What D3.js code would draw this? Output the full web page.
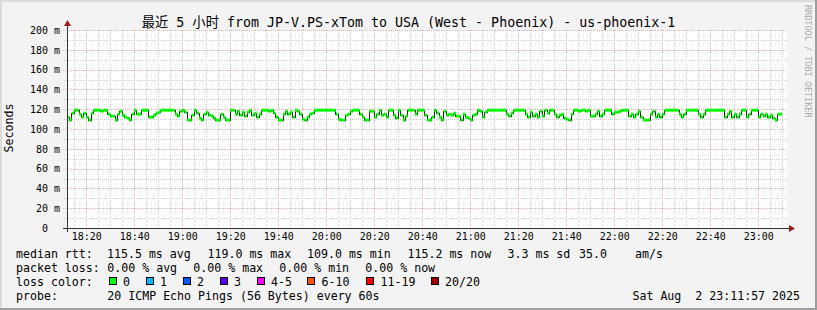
<!DOCTYPE html>
<html>
<head>
<meta charset="utf-8">
<script src="https://cdn.jsdelivr.net/npm/d3@7"></script>
<style>
  body { margin: 0; background: #f3f3f3; }
  text { font-family: "DejaVu Sans Mono", "Noto Sans CJK SC", monospace; fill: #000; }
</style>
</head>
<body>
<div id="chart"></div>
<script>
// median rtt (ms), one value per minute starting 18:12
const medianRtt = [
  112,109,116,119,119,115,112,116,112,109,
  116,119,119,119,118,119,119,115,113,113,
  109,115,118,114,112,111,109,115,119,115,
  115,119,119,119,112,112,114,116,117,119,
  119,119,119,119,119,115,113,118,119,117,
  109,109,114,119,116,111,109,115,117,114,
  113,111,109,109,115,112,109,109,119,119,
  115,118,114,117,113,117,119,114,116,112,
  115,119,119,119,118,119,116,112,109,109,
  115,118,115,117,112,119,118,115,110,109,
  112,115,116,119,119,119,119,119,119,119,
  119,119,115,110,109,109,114,115,118,119,
  119,119,115,112,109,109,118,118,112,115,
  119,114,115,112,119,119,114,111,119,114,
  109,113,119,119,119,115,119,119,119,114,
  109,109,112,119,116,112,109,118,114,115,
  114,116,113,113,109,115,112,111,109,114,
  115,119,118,112,117,119,119,119,119,119,
  119,119,119,115,113,116,119,119,119,119,
  119,115,112,117,113,115,112,118,113,119,
  116,119,119,115,112,114,115,111,110,109,
  115,119,119,118,119,119,118,119,113,113,
  115,118,113,115,119,119,119,115,117,117,
  118,119,119,119,113,115,112,115,118,112,
  109,109,109,115,118,112,115,112,115,119,
  119,119,119,119,119,115,112,115,119,119,
  119,119,119,115,112,115,119,119,119,119,
  119,119,119,119,112,115,118,112,115,112,
  115,119,119,112,115,119,119,119,112,115,
  113,115,112,114,111,109,115,115
];

const yTicks = [0, 20, 40, 60, 80, 100, 120, 140, 160, 180, 200];
const xTickLabels = ["18:20","18:40","19:00","19:20","19:40","20:00","20:20","20:40",
                     "21:00","21:20","21:40","22:00","22:20","22:40","23:00"];

const lossLabels = ["0", "1", "2", "3", "4-5", "6-10", "11-19", "20/20"];
const lossColors = ["#00ff00", "#00b8ff", "#0059ff", "#5e00ff", "#ff00ff", "#ff5500", "#ff0000", "#a00000"];

const rttStats = ["115.5 ms avg", "119.0 ms max", "109.0 ms min", "115.2 ms now", "3.3 ms sd", "35.0", "am/s"];
const lossStats = ["0.00 % avg", "0.00 % max", "0.00 % min", "0.00 % now"];

const W = 817, H = 310;
const plot = {left: 67, right: 787, top: 30, bottom: 228};

const parseHM = d3.timeParse("%Y-%m-%d %H:%M");
const tStart = parseHM("2025-08-02 18:12"),
      tEnd = parseHM("2025-08-02 23:12");
const data = medianRtt.map((v, i) => ({t: d3.timeMinute.offset(tStart, i), v: v}));

const svg = d3.select('#chart').append('svg')
    .attr('width', W)
    .attr('height', H);

// background + 3d frame
svg.append('rect').attr('width', W).attr('height', H).attr('fill', '#f3f3f3');
svg.append('rect').attr('x', 0).attr('y', 0).attr('width', W).attr('height', 2).attr('fill', '#dcdcdc');
svg.append('rect').attr('x', 0).attr('y', 0).attr('width', 2).attr('height', H).attr('fill', '#dcdcdc');
svg.append('rect').attr('x', 0).attr('y', H - 2).attr('width', W).attr('height', 2).attr('fill', '#9e9e9e');
svg.append('rect').attr('x', W - 2).attr('y', 0).attr('width', 2).attr('height', H).attr('fill', '#9e9e9e');

const xScale = d3.scaleTime().domain([tStart, tEnd]).range([plot.left, plot.right]);
const yScale = d3.scaleLinear().domain([0, 200]).range([plot.bottom, plot.top]);

svg.append('rect')
    .attr('x', plot.left).attr('y', plot.top)
    .attr('width', plot.right - plot.left).attr('height', plot.bottom - plot.top)
    .attr('fill', '#ffffff');

// grid
const grid = svg.append('g').attr('shape-rendering', 'crispEdges');
const minorX = d3.timeMinute.every(5).range(tStart, tEnd).filter(d => d.getMinutes() % 20 !== 0);
const majorX = d3.timeMinute.every(20).range(tStart, tEnd);
const minorY = d3.range(10, 201, 20);

grid.selectAll('.mx').data(minorX).join('line')
    .attr('x1', d => Math.round(xScale(d)) + 0.5).attr('x2', d => Math.round(xScale(d)) + 0.5)
    .attr('y1', plot.top).attr('y2', plot.bottom + 2)
    .attr('stroke', '#cfcfcf').attr('stroke-dasharray', '1,1');
grid.selectAll('.my').data(minorY).join('line')
    .attr('x1', plot.left - 3).attr('x2', plot.right)
    .attr('y1', d => Math.round(yScale(d)) + 0.5).attr('y2', d => Math.round(yScale(d)) + 0.5)
    .attr('stroke', '#cfcfcf').attr('stroke-dasharray', '1,1');
grid.selectAll('.Mx').data(majorX).join('line')
    .attr('x1', d => Math.round(xScale(d)) + 0.5).attr('x2', d => Math.round(xScale(d)) + 0.5)
    .attr('y1', plot.top).attr('y2', plot.bottom + 3)
    .attr('stroke', '#f0b0b0').attr('stroke-dasharray', '1,1');
grid.selectAll('.My').data(yTicks.filter(d => d > 0)).join('line')
    .attr('x1', plot.left - 4).attr('x2', plot.right)
    .attr('y1', d => Math.round(yScale(d)) + 0.5).attr('y2', d => Math.round(yScale(d)) + 0.5)
    .attr('stroke', '#f0b0b0').attr('stroke-dasharray', '1,1');

// y axis labels
const yAxis = svg.append('g')
    .attr('transform', `translate(${plot.left}, 0)`)
    .call(d3.axisLeft(yScale).tickValues(yTicks).tickSize(0).tickPadding(7)
          .tickFormat(d => d === 0 ? '0' : `${d} m`));
yAxis.select('.domain').remove();
yAxis.selectAll('text')
    .attr('font-family', '"DejaVu Sans Mono", monospace')
    .attr('font-size', 10).attr('fill', '#000')
    .attr('dx', d => d === 0 ? -12 : 0);

// x axis labels
const xAxis = svg.append('g')
    .attr('transform', `translate(0, ${plot.bottom})`)
    .call(d3.axisBottom(xScale).tickValues(majorX).tickSize(0).tickPadding(5)
          .tickFormat((d, i) => xTickLabels[i]));
xAxis.select('.domain').remove();
xAxis.selectAll('text')
    .attr('font-family', '"DejaVu Sans Mono", monospace')
    .attr('font-size', 10).attr('fill', '#000');

// median line + loss colour boxes
const lastT = d3.timeMinute.offset(tStart, medianRtt.length);
const stepData = data.concat([{t: lastT, v: medianRtt[medianRtt.length - 1]}]);
svg.append('path')
    .datum(stepData)
    .attr('fill', 'none')
    .attr('stroke', '#202020')
    .attr('stroke-width', 1)
    .attr('shape-rendering', 'crispEdges')
    .attr('d', d3.line().x(d => xScale(d.t)).y(d => yScale(d.v)).curve(d3.curveStepAfter));

svg.append('g').selectAll('rect').data(data).join('rect')
    .attr('x', d => xScale(d.t))
    .attr('width', d => xScale(d3.timeMinute.offset(d.t, 1)) - xScale(d.t))
    .attr('y', d => yScale(d.v) - 1.5)
    .attr('height', 3)
    .attr('fill', lossColors[0]);

// axis lines and arrows
const arrow = '#9b1c1c';
svg.append('line').attr('x1', plot.left + 0.5).attr('x2', plot.left + 0.5)
    .attr('y1', plot.bottom + 4).attr('y2', plot.top - 6)
    .attr('stroke', '#333').attr('shape-rendering', 'crispEdges');
svg.append('line').attr('x1', plot.left - 4).attr('x2', plot.right + 4)
    .attr('y1', plot.bottom + 0.5).attr('y2', plot.bottom + 0.5)
    .attr('stroke', '#333').attr('shape-rendering', 'crispEdges');
svg.append('path')
    .attr('d', `M${plot.left - 3},${plot.top - 4} L${plot.left + 0.5},${plot.top - 10} L${plot.left + 4},${plot.top - 4} Z`)
    .attr('fill', arrow);
svg.append('path')
    .attr('d', `M${plot.right + 2},${plot.bottom - 3} L${plot.right + 8},${plot.bottom + 0.5} L${plot.right + 2},${plot.bottom + 4} Z`)
    .attr('fill', arrow);

// title
svg.append('text')
    .attr('x', W / 2).attr('y', 27)
    .attr('text-anchor', 'middle')
    .attr('font-size', 13.3)
    .text('最近 5 小时 from JP-V.PS-xTom to USA (West - Phoenix) - us-phoenix-1');

// y axis title
svg.append('text')
    .attr('transform', 'translate(13, 128) rotate(-90)')
    .attr('text-anchor', 'middle')
    .attr('font-size', 11.6)
    .text('Seconds');

// watermark
svg.append('text')
    .attr('transform', 'translate(805, 5) rotate(90)')
    .attr('font-size', 8.5)
    .style('fill', '#aaaaaa')
    .text('RRDTOOL / TOBI OETIKER');

// legend
const lg = svg.append('g').attr('font-size', 11.6);
const rows = [258, 272, 286, 300];
lg.append('text').attr('x', 16).attr('y', rows[0]).text('median rtt:');
const rttX = [107, 207.5, 307, 407.5, 507.5, 579, 635];
rttStats.forEach((s, i) => lg.append('text').attr('x', rttX[i]).attr('y', rows[0]).text(s));

lg.append('text').attr('x', 16).attr('y', rows[1]).text('packet loss:');
lossStats.forEach((s, i) => lg.append('text').attr('x', 107.3 + i * 86).attr('y', rows[1]).text(s));

lg.append('text').attr('x', 16).attr('y', rows[2]).text('loss color:');
const boxX = [108.5, 145.5, 182.5, 219.5, 256.5, 307, 366, 430.5];
lg.selectAll('.box').data(lossColors).join('rect')
    .attr('x', (d, i) => boxX[i] + 0.5).attr('y', rows[2] - 8.5)
    .attr('width', 7).attr('height', 7)
    .attr('fill', d => d).attr('stroke', '#000').attr('stroke-width', 1)
    .attr('shape-rendering', 'crispEdges');
lg.selectAll('.lbl').data(lossLabels).join('text')
    .attr('x', (d, i) => boxX[i] + 14.5).attr('y', rows[2])
    .text(d => d);

lg.append('text').attr('x', 16).attr('y', rows[3]).text('probe:');
lg.append('text').attr('x', 107.3).attr('y', rows[3]).text('20 ICMP Echo Pings (56 Bytes) every 60s');
lg.append('text').attr('x', 800).attr('y', rows[3]).attr('text-anchor', 'end')
    .style('white-space', 'pre').text('Sat Aug  2 23:11:57 2025');
</script>
</body>
</html>
